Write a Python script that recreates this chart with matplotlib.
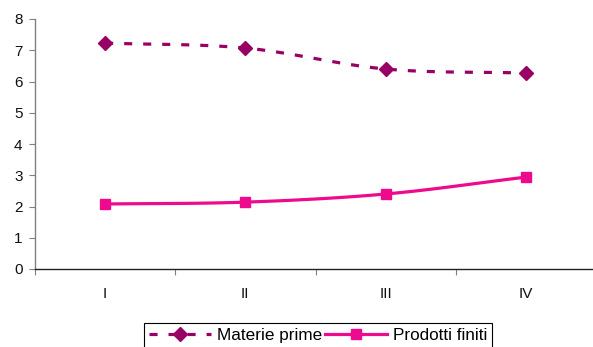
import numpy as np
import matplotlib
matplotlib.use("Agg")
import matplotlib.pyplot as plt
from matplotlib.lines import Line2D

plt.rcParams['font.family'] = ['Liberation Sans', 'DejaVu Sans']
plt.rcParams['lines.scale_dashes'] = False

quarters = ["I", "II", "III", "IV"]
materie_prime = [7.23, 7.07, 6.40, 6.27]
prodotti_finiti = [2.08, 2.14, 2.40, 2.94]

col_mp = "#990066"
col_pf = "#EE0A8C"


def smooth(xs, ys, n=40):
    """Catmull-Rom spline through the points (Excel-style smoothed line)."""
    x = np.asarray(xs, float)
    y = np.asarray(ys, float)
    px = np.concatenate([[2 * x[0] - x[1]], x, [2 * x[-1] - x[-2]]])
    py = np.concatenate([[2 * y[0] - y[1]], y, [2 * y[-1] - y[-2]]])
    outx, outy = [], []
    for i in range(1, len(px) - 2):
        t = np.linspace(0, 1, n, endpoint=(i == len(px) - 3))
        for arr, out in ((px, outx), (py, outy)):
            p0, p1, p2, p3 = arr[i - 1], arr[i], arr[i + 1], arr[i + 2]
            out.extend(0.5 * ((2 * p1) + (-p0 + p2) * t
                              + (2 * p0 - 5 * p1 + 4 * p2 - p3) * t ** 2
                              + (-p0 + 3 * p1 - 3 * p2 + p3) * t ** 3))
    return np.array(outx), np.array(outy)


W, H = 593, 347
fig = plt.figure(figsize=(W / 100, H / 100), dpi=100)
ax = fig.add_axes([35 / W, (H - 269) / H, (596 - 35) / W, 250 / H])

xpos = np.arange(1, len(quarters) + 1)

sx, sy = smooth(xpos, materie_prime)
ax.plot(sx, sy, color=col_mp, lw=2.3, dashes=(5.8, 7.9),
        dash_capstyle='butt', clip_on=False)
ax.plot(xpos, materie_prime, 'D', color=col_mp, ms=7, clip_on=False)

sx, sy = smooth(xpos, prodotti_finiti)
ax.plot(sx, sy, color=col_pf, lw=2.3, solid_capstyle='butt', clip_on=False)
ax.plot(xpos, prodotti_finiti, 's', color=col_pf, ms=6.5, clip_on=False)

ax.set_xlim(0.5, 4.5)
ax.set_ylim(0, 8)
ax.set_yticks(range(0, 9))
ax.set_xticks(np.arange(0.5, 5.0, 1.0))
ax.set_xticklabels([])
ax.set_xticks(xpos, minor=True)
ax.set_xticklabels(quarters, minor=True)

ax.tick_params(axis='y', direction='out', length=4, width=0.8, color='#808080',
               labelsize=11, pad=5, labelcolor='#111111')
ax.tick_params(axis='x', which='major', direction='out', length=4, width=0.8,
               color='#808080')
ax.tick_params(axis='x', which='minor', length=0, labelsize=11, pad=13,
               labelcolor='#111111')

for s in ('top', 'right'):
    ax.spines[s].set_visible(False)
ax.spines['left'].set_color('#808080')
ax.spines['left'].set_linewidth(1.0)
ax.spines['bottom'].set_color('#222222')
ax.spines['bottom'].set_linewidth(1.0)

handles = [
    Line2D([], [], color=col_mp, lw=2.3, dashes=(5.8, 7.9), marker='D', ms=7),
    Line2D([], [], color=col_pf, lw=2.3, marker='s', ms=6.5),
]
leg = fig.legend(handles, ["Materie prime", "Prodotti finiti"],
                 loc='upper left', bbox_to_anchor=(144 / W, 1 - 323 / H),
                 ncol=2, fontsize=12.3, handlelength=3.6, handletextpad=0.35,
                 columnspacing=0.2, borderpad=0.3, borderaxespad=0,
                 fancybox=False, framealpha=1, edgecolor='black')
leg.get_frame().set_linewidth(0.8)

fig.savefig("out.png", dpi=100)
